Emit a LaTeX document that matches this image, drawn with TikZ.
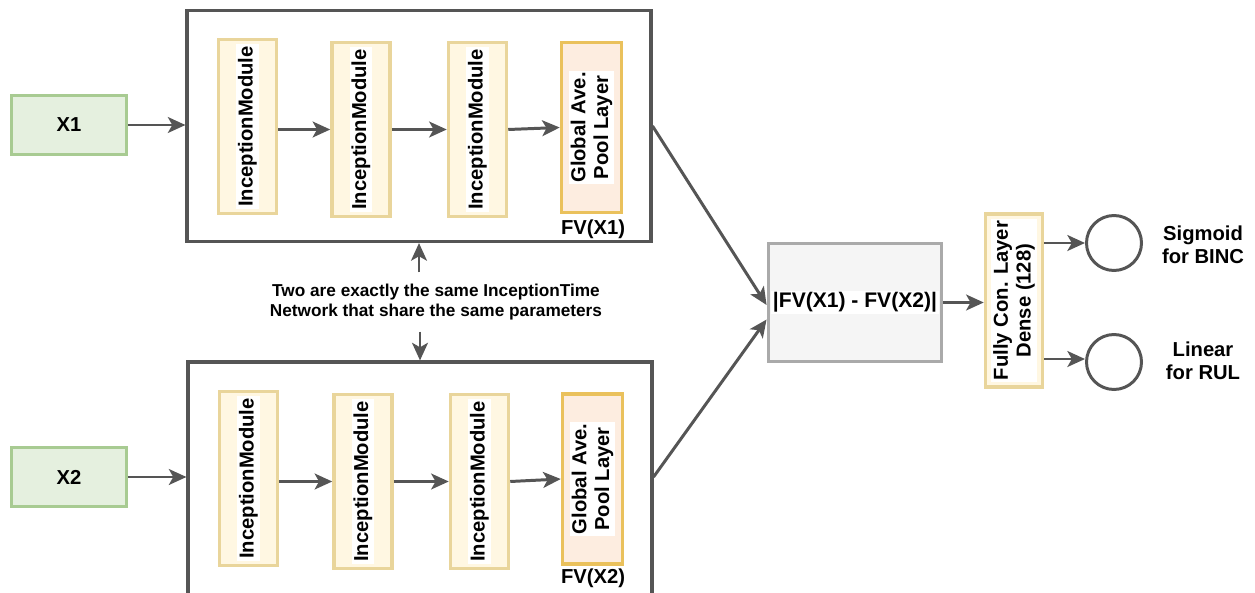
\documentclass[tikz,border=0pt]{standalone}
\usepackage{fontspec}
\setmainfont{Liberation Sans}
\usetikzlibrary{arrows.meta}

\definecolor{linegray}{RGB}{85,85,85}
\definecolor{ingreen}{RGB}{168,203,146}
\definecolor{inbg}{RGB}{229,240,223}
\definecolor{modline}{RGB}{233,213,155}
\definecolor{modfill}{RGB}{255,247,226}
\definecolor{poolline}{RGB}{234,193,92}
\definecolor{poolfill}{RGB}{253,237,224}
\definecolor{diffline}{RGB}{170,170,170}
\definecolor{difffill}{RGB}{245,245,245}

\begin{document}
\begin{tikzpicture}[x=0.02cm, y=-0.02cm, >={Stealth[length=10pt,width=9pt,inset=2.5pt]},
        every node/.style={font=\bfseries\fontsize{11.5}{13}\selectfont},
        inbox/.style={draw=ingreen, fill=inbg, line width=1.7pt, minimum width=2.3cm, minimum height=1.18cm},
        netbox/.style={draw=linegray, line width=1.8pt, minimum width=9.28cm, minimum height=4.62cm},
        modbox/.style={draw=modline, fill=modfill, line width=2pt, minimum width=1.16cm, minimum height=3.48cm},
        poolbox/.style={modbox, draw=poolline, fill=poolfill, minimum width=1.2cm, minimum height=3.4cm},
        txtbg/.style={fill=white, inner sep=1pt, rotate=90, align=center},
        outnode/.style={circle, draw=linegray, line width=1.7pt, minimum size=1.1cm},
        conn/.style={->, draw=linegray, line width=1.7pt}]
        \useasboundingbox (0,0) rectangle (1255,592);
        \clip (0,0) rectangle (1255,592);
        \node[inbox] (x1) at (69,125) {X1};
        \node[inbox] (x2) at (69,477) {X2};
        \node[netbox] (net1) at (419,126) {};
        \node[netbox, minimum height=4.8cm] (net2) at (420,482) {};
        \node[modbox, label={[txtbg]center:InceptionModule}] (m11) at (247.5,126.5) {};
        \node[modbox, label={[txtbg]center:InceptionModule}] (m12) at (361,129.5) {};
        \node[modbox, label={[txtbg]center:InceptionModule}] (m13) at (477.5,129.5) {};
        \node[poolbox, label={[txtbg]center:{Global Ave.\\Pool Layer}}] (pool1) at (591.5,127.5) {};
        \node[modbox, label={[txtbg]center:InceptionModule}] (m21) at (248.5,478.5) {};
        \node[modbox, label={[txtbg]center:InceptionModule}] (m22) at (363,481.5) {};
        \node[modbox, label={[txtbg]center:InceptionModule}] (m23) at (479.5,481.5) {};
        \node[poolbox, label={[txtbg]center:{Global Ave.\\Pool Layer}}] (pool2) at (592.5,479) {};
        \node (fv1) at (593,229) {FV(X1)};
        \node (fv2) at (593,578) {FV(X2)};
        \node[align=center, inner ysep=6.5pt, font=\bfseries\fontsize{9.8}{11.3}\selectfont] (note) at (436,302)
            {Two are exactly the same InceptionTime\\Network that share the same parameters};
        \node[draw=diffline, fill=difffill, line width=2.2pt, minimum width=3.46cm, minimum height=2.36cm,
            label={[fill=white, inner sep=1pt, font=\bfseries\fontsize{12}{14}\selectfont]center:{|FV(X1) - FV(X2)|}}] (diff) at (855,302.5) {};
        \node[modbox, minimum width=1.14cm, minimum height=3.46cm,
            label={[txtbg]center:{Fully Con. Layer\\Dense (128)}}] (fc) at (1014,300.5) {};
        \node[outnode] (o1) at (1114,243) {};
        \node[outnode] (o2) at (1114,362) {};
        \node[align=center] (lab1) at (1203,245) {Sigmoid\\for BINC};
        \node[align=center] (lab2) at (1203,361) {Linear\\for RUL};
        \draw[conn] (x1.east) -- (x1.east -| net1.west);
        \draw[conn] (x2.east) -- (x2.east -| net2.west);
        \draw[conn] (m12.west -| m11.east) -- (m12.west);
        \draw[conn] (m12.east) -- (m13.west);
        \draw[conn] (m13.east) -- (pool1.west);
        \draw[conn] (m22.west -| m21.east) -- (m22.west);
        \draw[conn] (m22.east) -- (m23.west);
        \draw[conn] (m23.east) -- (pool2.west);
        \draw[conn] (note.north -| net1.south) -- (net1.south);
        \draw[conn] (note.south -| net2.north) -- (net2.north);
        \draw[conn] (net1.east) -- ([yshift=-0.5mm]diff.west);
        \draw[conn] ([yshift=1mm]net2.east) -- ([yshift=-3.4mm]diff.west);
        \draw[conn] (diff.east) -- (diff.east -| fc.west);
        \draw[conn] (o1.west -| fc.east) -- (o1.west);
        \draw[conn] ([yshift=0.6mm]o2.west -| fc.east) -- ([yshift=0.6mm]o2.west);
\end{tikzpicture}
\end{document}
